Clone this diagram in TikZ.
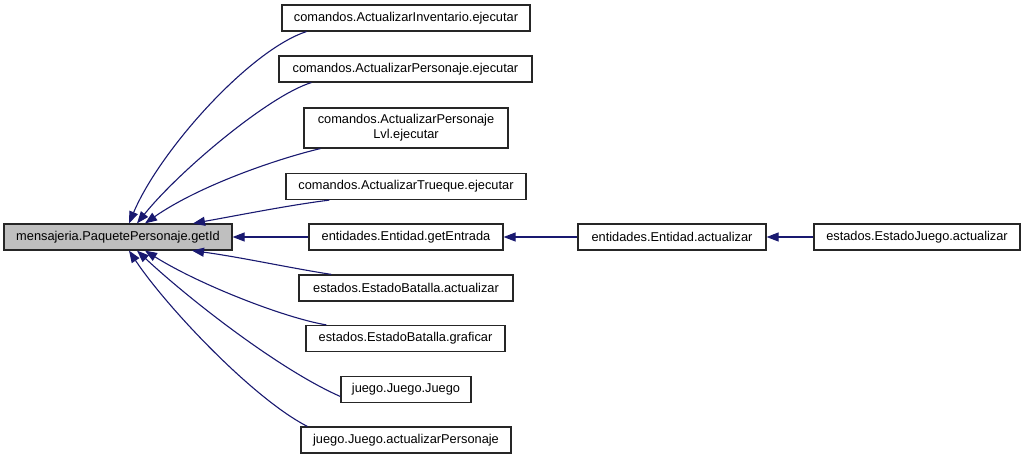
\documentclass[tikz,border=0pt]{standalone}
\usepackage{fontspec}
\setmainfont{Liberation Sans}
\usetikzlibrary{arrows.meta}
\definecolor{edgeblue}{HTML}{191970}
\definecolor{boxgray}{HTML}{BFBFBF}

\begin{document}
\begin{tikzpicture}[x=1pt, y=-1pt,
        fn/.style={draw=black!85, line width=1.2pt, fill=white, inner sep=0pt, minimum height=26pt,
            font=\fontsize{12.8}{15}\selectfont, align=center},
        caller/.style={edgeblue, line width=1.1pt, -{Triangle[length=12pt,width=9pt]}}]
        \useasboundingbox (0,0) rectangle (1027,459);
        % function being called
        \node[fn, fill=boxgray, minimum width=228pt] (getid) at (118,237) {mensajeria.PaquetePersonaje.getId};
        % callers
        \node[fn, minimum width=248pt] (inv) at (406,18) {comandos.ActualizarInventario.ejecutar};
        \node[fn, minimum width=253pt] (pers) at (405.5,69) {comandos.ActualizarPersonaje.ejecutar};
        \node[fn, minimum width=204pt, minimum height=40pt] (lvl) at (406,128) {comandos.ActualizarPersonaje\\Lvl.ejecutar};
        \node[fn, minimum width=240pt] (trueque) at (406,186.5) {comandos.ActualizarTrueque.ejecutar};
        \node[fn, minimum width=194pt] (entrada) at (406,237) {entidades.Entidad.getEntrada};
        \node[fn, minimum width=214pt] (batact) at (406,288) {estados.EstadoBatalla.actualizar};
        \node[fn, minimum width=199pt] (batgraf) at (405.5,338.5) {estados.EstadoBatalla.graficar};
        \node[fn, minimum width=130pt] (juego) at (406,389.5) {juego.Juego.Juego};
        \node[fn, minimum width=210pt] (juegopers) at (406,440) {juego.Juego.actualizarPersonaje};
        \node[fn, minimum width=188pt] (entact) at (672,237) {entidades.Entidad.actualizar};
        \node[fn, minimum width=206pt] (juegoact) at (917,237) {estados.EstadoJuego.actualizar};
        % edges
        \draw[caller] ([xshift=25pt]inv.south west) .. controls (250,50) and (160,150) .. ([xshift=11pt]getid.north);
        \draw[caller] ([xshift=33pt]pers.south west) .. controls (270,95) and (180,170) .. ([xshift=19pt]getid.north);
        \draw[caller] ([xshift=17pt]lvl.south west) .. controls (280,158) and (200,185) .. ([xshift=27pt]getid.north);
        \draw[caller] ([xshift=44pt]trueque.south west) .. controls (290,205) and (240,215) .. ([xshift=75pt]getid.north);
        \draw[caller] (entrada) -- (getid);
        \draw[caller] ([xshift=33pt]batact.north west) .. controls (290,268) and (240,257) .. ([xshift=74pt]getid.south);
        \draw[caller] ([xshift=21pt]batgraf.north west) .. controls (285,318) and (200,285) .. ([xshift=27pt]getid.south);
        \draw[caller] ([yshift=-7pt]juego.west) .. controls (280,370) and (190,300) .. ([xshift=19pt]getid.south);
        \draw[caller] ([xshift=7pt]juegopers.north west) .. controls (252,398) and (165,305) .. ([xshift=11pt]getid.south);
        \draw[caller] (entact) -- (entrada);
        \draw[caller] (juegoact) -- (entact);
    \end{tikzpicture}
\end{document}
